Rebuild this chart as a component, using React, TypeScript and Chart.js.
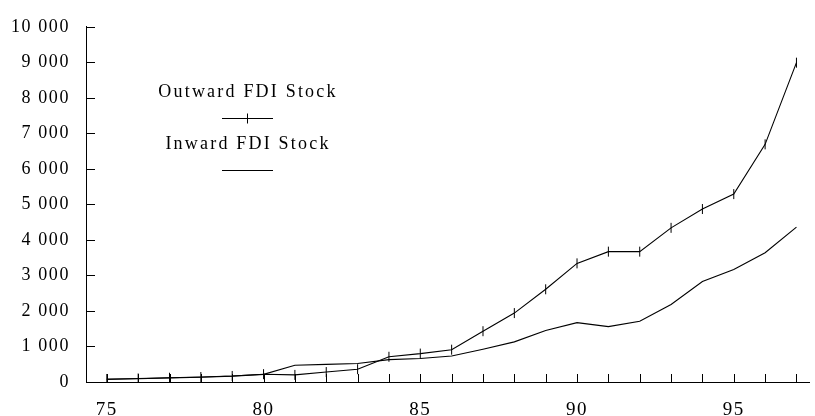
import React, { useEffect, useRef } from 'react';
import { Chart, registerables } from 'chart.js';

Chart.register(...registerables);

// Year (19xx) and FDI stock values
const years = [75, 76, 77, 78, 79, 80, 81, 82, 83, 84, 85, 86, 87, 88, 89, 90, 91, 92, 93, 94, 95, 96, 97];
const outwardStock = [85, 100, 120, 140, 170, 220, 200, 280, 360, 710, 800, 910, 1430, 1940, 2610, 3340, 3670, 3670, 4340, 4870, 5290, 6690, 8990];
const inwardStock = [70, 90, 115, 135, 165, 215, 470, 495, 520, 630, 660, 730, 920, 1130, 1450, 1670, 1560, 1710, 2180, 2830, 3170, 3640, 4360];
const seriesNames = ['Outward FDI Stock', 'Inward FDI Stock'];
const xLabelYears = [75, 80, 85, 90, 95];
const yTickValues = [0, 1000, 2000, 3000, 4000, 5000, 6000, 7000, 8000, 9000, 10000];

const FONT = "'Liberation Serif', 'DejaVu Serif', serif";
const INK = '#000';

const withSpaces = (v: number) => String(v).replace(/\B(?=(\d{3})+(?!\d))/g, ' ');

// Wide tracking for all canvas text
const trackingPlugin = {
  id: 'tracking',
  beforeDraw(chart: any) {
    chart.ctx.letterSpacing = '1.6px';
  },
};

// Tick marks pointing into the plot area
const innerTicksPlugin = {
  id: 'innerTicks',
  afterDatasetsDraw(chart: any) {
    const { ctx, chartArea, scales } = chart;
    const x = scales.x;
    const y = scales.y;
    ctx.save();
    ctx.strokeStyle = INK;
    ctx.lineWidth = 1;
    ctx.beginPath();
    for (const t of x.ticks) {
      const px = Math.round(x.getPixelForValue(t.value)) + 0.5;
      ctx.moveTo(px, chartArea.bottom);
      ctx.lineTo(px, chartArea.bottom - 8);
    }
    for (const t of y.ticks) {
      const py = Math.round(y.getPixelForValue(t.value)) + 0.5;
      ctx.moveTo(chartArea.left, py);
      ctx.lineTo(chartArea.left + 9, py);
    }
    ctx.stroke();
    ctx.restore();
  },
};

// Stacked legend: name above its line sample
const legendPlugin = {
  id: 'stackLegend',
  afterDraw(chart: any) {
    const { ctx } = chart;
    const cx = 247;
    const rows = [
      { label: seriesNames[0], textY: 92, lineY: 118, marker: true },
      { label: seriesNames[1], textY: 144, lineY: 170, marker: false },
    ];
    ctx.save();
    ctx.letterSpacing = '2.2px';
    ctx.font = `18px ${FONT}`;
    ctx.fillStyle = INK;
    ctx.textAlign = 'center';
    ctx.textBaseline = 'middle';
    ctx.strokeStyle = INK;
    ctx.lineWidth = 1;
    for (const r of rows) {
      ctx.fillText(r.label, cx + 1, r.textY);
      ctx.beginPath();
      ctx.moveTo(cx - 25, r.lineY + 0.5);
      ctx.lineTo(cx + 26, r.lineY + 0.5);
      if (r.marker) {
        ctx.moveTo(cx + 0.5, r.lineY - 4.5);
        ctx.lineTo(cx + 0.5, r.lineY + 5.5);
      }
      ctx.stroke();
    }
    ctx.restore();
  },
};

export default function App() {
  const canvasRef = useRef<HTMLCanvasElement | null>(null);

  useEffect(() => {
    const canvas = canvasRef.current;
    if (!canvas) return;

    const chart = new Chart(canvas, {
      type: 'line',
      data: {
        datasets: [
          {
            label: seriesNames[0],
            data: years.map((yr, i) => ({ x: yr, y: outwardStock[i] })),
            borderColor: INK,
            borderWidth: 1.1,
            pointStyle: 'line',
            rotation: 90,
            pointRadius: 5,
            pointBorderWidth: 1,
            pointBorderColor: INK,
            pointBackgroundColor: INK,
            tension: 0,
            fill: false,
          },
          {
            label: seriesNames[1],
            data: years.map((yr, i) => ({ x: yr, y: inwardStock[i] })),
            borderColor: INK,
            borderWidth: 1.1,
            pointRadius: 0,
            tension: 0,
            fill: false,
          },
        ],
      },
      options: {
        responsive: false,
        animation: false,
        layout: { padding: { top: 24, left: 0, right: 0, bottom: 0 } },
        plugins: {
          legend: { display: false },
          tooltip: { enabled: false },
        },
        scales: {
          x: {
            type: 'linear',
            min: 74.336,
            max: 97.4,
            afterBuildTicks: (scale: any) => {
              scale.ticks = years.map((v) => ({ value: v }));
            },
            afterFit: (scale: any) => {
              scale.height = 34;
            },
            grid: { display: true, drawOnChartArea: false, drawTicks: false },
            border: { display: true, color: INK, width: 1 },
            ticks: {
              autoSkip: false,
              maxRotation: 0,
              padding: 17,
              color: INK,
              font: { family: FONT, size: 19 },
              callback: (v: any) => (xLabelYears.includes(Number(v)) ? String(v) : ''),
            },
          },
          y: {
            type: 'linear',
            min: 0,
            max: 10000,
            afterBuildTicks: (scale: any) => {
              scale.ticks = yTickValues.map((v) => ({ value: v }));
            },
            afterFit: (scale: any) => {
              scale.width = 86;
            },
            grid: { display: true, drawOnChartArea: false, drawTicks: false },
            border: { display: true, color: INK, width: 1 },
            ticks: {
              padding: 16,
              color: INK,
              font: { family: FONT, size: 18 },
              callback: (v: any) => withSpaces(Number(v)),
            },
          },
        },
      },
      plugins: [trackingPlugin, innerTicksPlugin, legendPlugin],
    } as any);

    return () => chart.destroy();
  }, []);

  return (
    <div style={{ position: 'fixed', left: 0, top: 0, width: 815, height: 416, background: '#fff' }}>
      <canvas ref={canvasRef} width={815} height={416} style={{ display: 'block' }} />
    </div>
  );
}
